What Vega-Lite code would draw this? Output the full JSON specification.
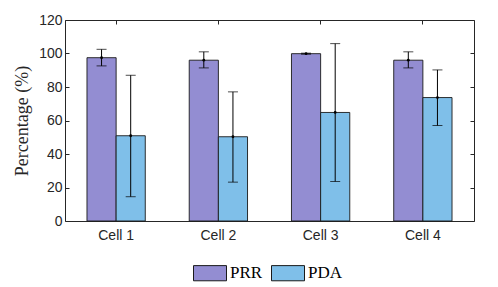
{
  "$schema": "https://vega.github.io/schema/vega-lite/v6.json",
  "width": 409,
  "height": 201,
  "autosize": {"type": "none"},
  "padding": {"left": 65, "top": 20, "right": 24, "bottom": 66},
  "background": "white",
  "data": {"values": [
    {"cell": "Cell 1", "series": "PRR", "value": 97.5, "lo": 92.6, "hi": 102.5},
    {"cell": "Cell 1", "series": "PDA", "value": 50.9, "lo": 14.5, "hi": 87.0},
    {"cell": "Cell 2", "series": "PRR", "value": 96.0, "lo": 91.4, "hi": 101.0},
    {"cell": "Cell 2", "series": "PDA", "value": 50.3, "lo": 23.2, "hi": 77.1},
    {"cell": "Cell 3", "series": "PRR", "value": 99.9, "lo": 99.6, "hi": 100.2},
    {"cell": "Cell 3", "series": "PDA", "value": 64.8, "lo": 23.6, "hi": 105.9},
    {"cell": "Cell 4", "series": "PRR", "value": 96.0, "lo": 91.4, "hi": 101.0},
    {"cell": "Cell 4", "series": "PDA", "value": 73.7, "lo": 57.0, "hi": 90.2}
  ]},
  "config": {
    "view": {"stroke": null},
    "axis": {"grid": false, "domainColor": "#262626", "tickColor": "#262626", "labelColor": "#262626", "labelFont": "Liberation Sans", "labelFontSize": 14, "titleFont": "Liberation Serif", "titleFontWeight": "normal", "titleColor": "#262626", "titleFontSize": 18, "tickSize": -4, "domainWidth": 1}
  },
  "encoding": {
    "x": {"field": "cell", "type": "nominal", "scale": {"paddingInner": 0.43, "paddingOuter": 0.215}, "axis": null},
    "xOffset": {"field": "series", "type": "nominal", "scale": {"domain": ["PRR", "PDA"], "paddingInner": 0}}
  },
  "layer": [
    {
      "mark": {"type": "bar", "stroke": "#1a1a1a", "strokeWidth": 0.9},
      "encoding": {
        "x": {"field": "cell", "type": "nominal", "axis": {"title": null, "labelAngle": 0, "labelPadding": 11, "ticks": true}},
        "y": {"field": "value", "type": "quantitative", "scale": {"domain": [0, 120]}, "axis": {"values": [0, 20, 40, 60, 80, 100, 120], "title": "Percentage (%)", "titlePadding": 7, "labelPadding": 7}},
        "fill": {"field": "series", "type": "nominal", "scale": {"domain": ["PRR", "PDA"], "range": ["#938dd2", "#7fbfe9"]},
          "legend": {"title": null, "orient": "none", "legendX": 128, "legendY": 236, "direction": "horizontal", "symbolType": "M-1,-0.46H1V0.46H-1Z", "symbolSize": 1089, "symbolStrokeColor": "#1a1a1a", "symbolStrokeWidth": 1, "labelFont": "Liberation Serif", "labelFontSize": 17, "labelColor": "#000", "columnPadding": 6, "labelOffset": 3, "padding": 0}}
      }
    },
    {
      "mark": {"type": "rule", "color": "#000", "strokeWidth": 1},
      "encoding": {
        "x": {"field": "cell", "type": "nominal", "axis": {"orient": "top", "title": null, "labels": false, "domainColor": "#262626"}},
        "y": {"field": "lo", "type": "quantitative", "axis": {"orient": "right", "title": null, "labels": false, "values": [0, 20, 40, 60, 80, 100, 120], "domainColor": "#262626"}},
        "y2": {"field": "hi"}
      }
    },
    {
      "mark": {"type": "tick", "color": "#000", "size": 10, "thickness": 1},
      "encoding": {"y": {"field": "lo", "type": "quantitative", "axis": null}}
    },
    {
      "mark": {"type": "tick", "color": "#000", "size": 10, "thickness": 1},
      "encoding": {"y": {"field": "hi", "type": "quantitative", "axis": null}}
    },
    {
      "mark": {"type": "point", "filled": true, "color": "#000", "size": 8, "opacity": 1},
      "encoding": {"y": {"field": "value", "type": "quantitative", "axis": null}}
    }
  ],
  "resolve": {"axis": {"x": "independent", "y": "independent"}}
}
